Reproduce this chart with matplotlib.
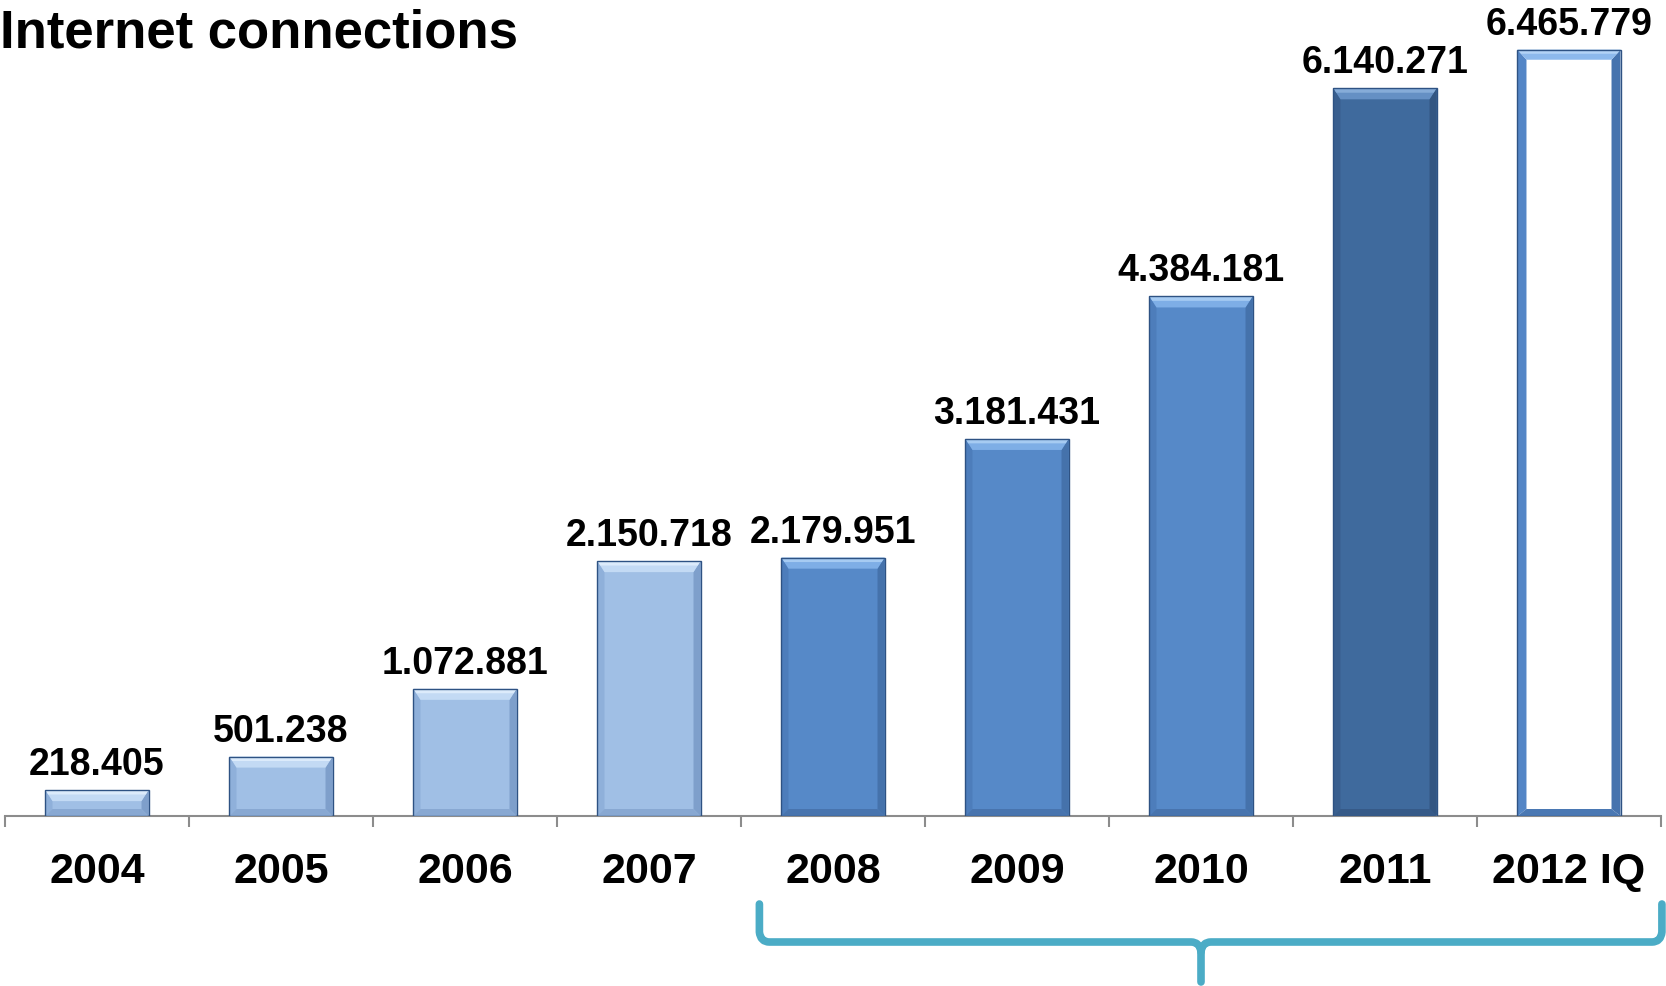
import matplotlib
matplotlib.use("Agg")
import matplotlib.pyplot as plt
from matplotlib.patches import Polygon, PathPatch, Rectangle
from matplotlib.path import Path
from matplotlib import transforms

# ---- data ----
years = ["2004", "2005", "2006", "2007", "2008", "2009", "2010", "2011", "2012 IQ"]
connections = [218405, 501238, 1072881, 2150718, 2179951, 3181431, 4384181, 6140271, 6465779]
title = "Internet connections"

# colour groups: (face, top bevel, top highlight, left, right, bottom)
LIGHT = ("#A0BFE5", "#C3DAF4", "#DCEBFB", "#8FB0DA", "#7E9FCB", "#88A8D2")
MID = ("#5689C8", "#7EAEE6", "#A6CBF2", "#4D7DBB", "#4572AB", "#4874AE")
DARK = ("#3F6A9D", "#6590C4", "#86ACD8", "#395F8F", "#335682", "#365A88")
OPEN = ("#FFFFFF", "#8DB9EC", "#B3D3F6", "#5486C6", "#4673AE", "#4A78B3")
styles = [LIGHT, LIGHT, LIGHT, LIGHT, MID, MID, MID, DARK, OPEN]
outline = "#2E5283"

plt.rcParams["font.family"] = ["Liberation Sans", "DejaVu Sans"]

W, H = 1666, 987
fig = plt.figure(figsize=(W / 100, H / 100), dpi=100)
ax_left, ax_right, ax_bottom = 5, 1661, 170
ax = fig.add_axes([ax_left / W, ax_bottom / H, (ax_right - ax_left) / W, (H - ax_bottom) / H])

n = len(years)
x = list(range(n))
ymax = 6.894e6
ax.set_xlim(-0.5, n - 0.5)
ax.set_ylim(0, ymax)

# pixel -> data conversion
px_x = (n) / (ax_right - ax_left)
px_y = ymax / (H - ax_bottom)

bar_w = 0.56
bars = ax.bar(x, connections, width=bar_w, color=[s[0] for s in styles],
              edgecolor="none", zorder=2)

for xi, v, st in zip(x, connections, styles):
    x0, x1 = xi - bar_w / 2, xi + bar_w / 2
    if st is OPEN:
        bx, bt, bb = 9 * px_x, 10 * px_y, 7 * px_y
    else:
        bx, bt, bb = 7 * px_x, 11 * px_y, 7 * px_y
    face, top, hi, left, right, bottom = st
    # bevelled faces
    ax.add_patch(Polygon([(x0, 0), (x0, v), (x0 + bx, v - bt), (x0 + bx, bb)],
                         closed=True, fc=left, ec="none", zorder=3))
    ax.add_patch(Polygon([(x1, 0), (x1, v), (x1 - bx, v - bt), (x1 - bx, bb)],
                         closed=True, fc=right, ec="none", zorder=3))
    ax.add_patch(Polygon([(x0, 0), (x1, 0), (x1 - bx, bb), (x0 + bx, bb)],
                         closed=True, fc=bottom, ec="none", zorder=3))
    ax.add_patch(Polygon([(x0, v), (x1, v), (x1 - bx, v - bt), (x0 + bx, v - bt)],
                         closed=True, fc=top, ec="none", zorder=3))
    hb = bt * 0.4
    ax.add_patch(Polygon([(x0, v), (x1, v), (x1 - bx * 0.4, v - hb), (x0 + bx * 0.4, v - hb)],
                         closed=True, fc=hi, ec="none", zorder=3))
    # thin outline
    ax.add_patch(Rectangle((x0, 0), bar_w, v, fill=False, ec=outline, lw=1.0, zorder=4))
    # value label
    ax.annotate(f"{v:,}".replace(",", "."), (xi, v), xytext=(0, 11.5),
                textcoords="offset points", ha="center", va="baseline",
                fontsize=27, fontweight="bold", color="black", zorder=5)

# axes styling
for side in ("left", "right", "top"):
    ax.spines[side].set_visible(False)
ax.spines["bottom"].set_color("#8C8C8C")
ax.spines["bottom"].set_linewidth(1.5)
ax.set_yticks([])
ax.set_xticks(x)
ax.set_xticklabels(years, fontsize=31, fontweight="bold")
ax.tick_params(axis="x", which="major", length=0, pad=25)
ax.set_xticks([i - 0.5 for i in range(n + 1)], minor=True)
ax.tick_params(axis="x", which="minor", length=8, width=1.5, color="#8C8C8C", direction="out")

# title
fig.text(0.0, 1 - 47 / H, title, fontsize=38, fontweight="bold", ha="left", va="baseline")

# curly bracket below the 2008-2012 period
trans = transforms.blended_transform_factory(ax.transData, fig.transFigure)
bl, br, bc = 3.60, 8.505, 6.0
y_top, y_mid, y_tip = 1 - 905 / H, 1 - 943 / H, 1 - 983 / H
rx = 10 * px_x
ry = 10 / H
verts = [
    (bl, y_top), (bl, y_mid + ry), (bl + rx * 0.1, y_mid), (bl + rx, y_mid),
    (bc - rx, y_mid), (bc - rx * 0.1, y_mid), (bc, y_mid - ry), (bc, y_tip),
]
codes = [Path.MOVETO, Path.LINETO, Path.CURVE3, Path.CURVE3,
         Path.LINETO, Path.CURVE3, Path.CURVE3, Path.LINETO]
verts_r = [
    (br, y_top), (br, y_mid + ry), (br - rx * 0.1, y_mid), (br - rx, y_mid),
    (bc + rx, y_mid), (bc + rx * 0.1, y_mid), (bc, y_mid - ry),
]
codes_r = [Path.MOVETO, Path.LINETO, Path.CURVE3, Path.CURVE3,
           Path.LINETO, Path.CURVE3, Path.CURVE3]
for vv, cc in ((verts, codes), (verts_r, codes_r)):
    ax.add_patch(PathPatch(Path(vv, cc), fill=False, ec="#4BACC6", lw=5.5,
                           capstyle="round", joinstyle="round", transform=trans,
                           clip_on=False))

fig.savefig("out.png", dpi=100)
